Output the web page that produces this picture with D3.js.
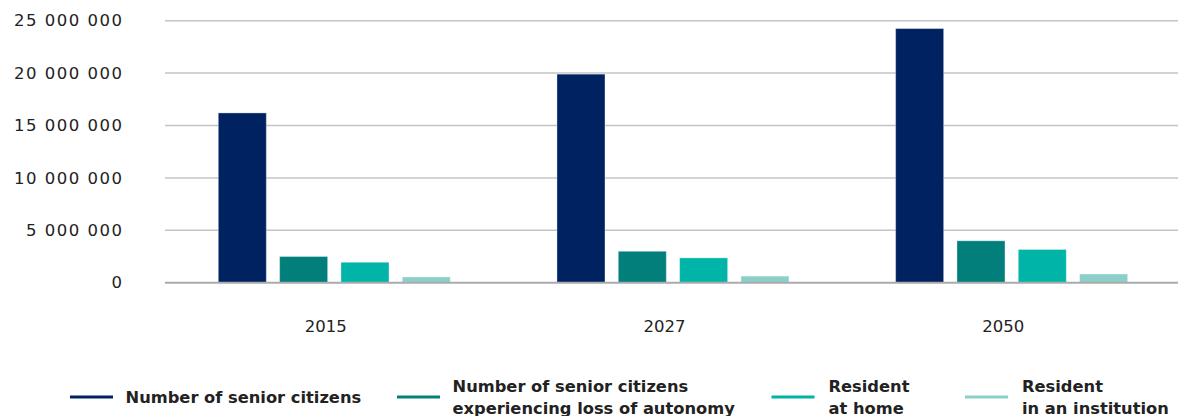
<!DOCTYPE html>
<html>
<head>
<meta charset="utf-8">
<script src="https://cdn.jsdelivr.net/npm/d3@7"></script>
<style>
  html, body { margin: 0; padding: 0; background: #fff; }
  svg { display: block; }
</style>
</head>
<body>
<svg id="chart" width="1178" height="416"></svg>
<script>
// Years shown on the horizontal axis
const years = ["2015", "2027", "2050"];

// Series keys, legend text (one entry per line) and colours
const seriesKeys = ["seniors", "lossOfAutonomy", "atHome", "inInstitution"];
const seriesLabels = [
  ["Number of senior citizens"],
  ["Number of senior citizens", "experiencing loss of autonomy"],
  ["Resident", "at home"],
  ["Resident", "in an institution"]
];
const seriesColors = ["#012260", "#027e7b", "#00b4a8", "#8bd0c8"];

// Values per year
const seniors        = [16200000, 19900000, 24250000];
const lossOfAutonomy = [2500000, 3000000, 4000000];
const atHome         = [1950000, 2370000, 3170000];
const inInstitution  = [550000, 630000, 830000];

// Y axis ticks
const yTicks = [0, 5000000, 10000000, 15000000, 20000000, 25000000];

const seriesValues = { seniors, lossOfAutonomy, atHome, inInstitution };
const rows = years.map((yr, i) => ({
  year: yr,
  values: seriesKeys.map(k => ({ key: k, value: seriesValues[k][i] }))
}));

const svg = d3.select("#chart");
const W = 1178;
const plotLeft = 165;
const axisFont = "'DejaVu Sans', sans-serif";

const y = d3.scaleLinear().domain([0, 25000000]).range([282.7, 20.7]);
const x0 = d3.scaleBand().domain(years).range([plotLeft, 1181]).paddingInner(0).paddingOuter(0);
const x1 = d3.scaleBand().domain(seriesKeys).range([53.3, 285.3]).paddingInner(0.217).paddingOuter(0);
const color = d3.scaleOrdinal().domain(seriesKeys).range(seriesColors);

const fmt = v => d3.format(",")(v).replace(/,/g, " ");

// Horizontal grid lines
svg.append("g")
  .selectAll("line")
  .data(yTicks.filter(t => t > 0))
  .join("line")
  .attr("x1", plotLeft).attr("x2", W)
  .attr("y1", d => y(d)).attr("y2", d => y(d))
  .attr("stroke", "#c4c4c4")
  .attr("stroke-width", 1.5);

// Y axis labels
const yAxis = svg.append("g")
  .attr("transform", `translate(123.5,0)`)
  .call(d3.axisLeft(y).tickValues(yTicks).tickFormat(fmt).tickSize(0).tickPadding(0));
yAxis.select(".domain").remove();
yAxis.selectAll("text")
  .attr("font-family", axisFont)
  .attr("font-size", 16.5)
  .attr("letter-spacing", 1.5)
  .attr("fill", "#222");

// Bars
svg.append("g")
  .selectAll("g")
  .data(rows)
  .join("g")
  .attr("transform", d => `translate(${x0(d.year)},0)`)
  .selectAll("rect")
  .data(d => d.values)
  .join("rect")
  .attr("x", d => x1(d.key))
  .attr("width", x1.bandwidth())
  .attr("y", d => y(d.value))
  .attr("height", d => y(0) - y(d.value))
  .attr("fill", d => color(d.key))
  .attr("stroke", "#ffffff")
  .attr("stroke-opacity", 0.35)
  .attr("stroke-width", 1);

// Baseline
svg.append("line")
  .attr("x1", plotLeft).attr("x2", W)
  .attr("y1", y(0)).attr("y2", y(0))
  .attr("stroke", "#ababab")
  .attr("stroke-width", 2);

// X axis labels
const xAxis = svg.append("g")
  .attr("transform", `translate(-8.5,${y(0)})`)
  .call(d3.axisBottom(x0).tickSize(0).tickPadding(38));
xAxis.select(".domain").remove();
xAxis.selectAll("text")
  .attr("font-family", axisFont)
  .attr("font-size", 16.5)
  .attr("fill", "#222");

// Legend
const legendX = [70, 397, 771.5, 965];
const legend = svg.append("g")
  .selectAll("g")
  .data(seriesKeys)
  .join("g")
  .attr("transform", (d, i) => `translate(${legendX[i]},397)`);

legend.append("line")
  .attr("x1", 0).attr("x2", 43)
  .attr("stroke", d => color(d))
  .attr("stroke-width", 3);

legend.append("text")
  .attr("x", (d, i) => i < 2 ? 55.5 : 57)
  .attr("font-family", "'DejaVu Sans', sans-serif")
  .attr("font-weight", 700)
  .attr("font-size", 16.3)
  .attr("fill", "#222")
  .each(function(d, i) {
    const lines = seriesLabels[i];
    const t = d3.select(this);
    const x = t.attr("x");
    lines.forEach((ln, j) => {
      const dy = lines.length === 1 ? 6 : (j === 0 ? -5.5 : 16.5);
      t.append("tspan").attr("x", x).attr("y", dy).text(ln);
    });
  });
</script>
</body>
</html>
